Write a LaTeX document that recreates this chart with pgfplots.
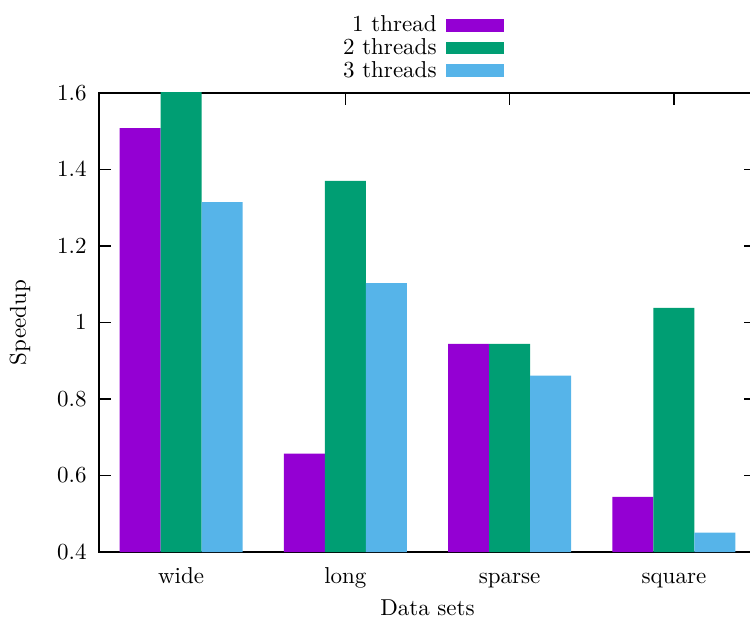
\documentclass[border=0pt]{standalone}
\usepackage{pgfplots}
\pgfplotsset{compat=1.18}
\definecolor{c1}{HTML}{9400D3}
\definecolor{c2}{HTML}{009E73}
\definecolor{c3}{HTML}{56B4E9}
\begin{document}
\begin{tikzpicture}
\begin{axis}[
  at={(0pt,0pt)}, anchor=south west,
  scale only axis, width=285.65pt, height=199.57pt,
  xmin=-0.5, xmax=3.5, ymin=0.4, ymax=1.6,
  ybar, bar width=0.25,
  xtick={0,1,2,3}, xticklabels={wide,long,sparse,square},
  ytick={0.4,0.6,0.8,1,1.2,1.4,1.6},
  xtick align=inside, ytick align=inside, major tick length=5.2pt,
  axis line style={line width=0.8pt},
  tick style={line width=0.6pt, black},
  xticklabel style={anchor=base, yshift=-13.6pt},
  yticklabel style={anchor=east, inner sep=0pt, xshift=-5.2pt},
  every axis y label/.style={at={(rel axis cs:0,0.5)}, xshift=-34.3pt, rotate=90, anchor=center},
  every axis x label/.style={at={(rel axis cs:0.5,0)}, yshift=-24.3pt, anchor=center},
  ylabel={Speedup}, xlabel={Data sets},
  legend plot pos=right,
  legend cell align=right,
  legend style={at={(axis description cs:0.6164,1.17)}, anchor=north east,
    draw=none, fill=none, inner sep=0pt, row sep=1.5pt, column sep=4.3pt,
    nodes={inner sep=0pt}},
  legend image code/.code={\fill[#1] (0pt,-2.8pt) rectangle (24.8pt,2.8pt);},
]
\addplot[fill=c1, draw=none, bar shift=-0.25] coordinates {(0,1.508) (1,0.657) (2,0.944) (3,0.544)};
\addplot[fill=c2, draw=none, bar shift=0] coordinates {(0,1.62) (1,1.37) (2,0.944) (3,1.038)};
\addplot[fill=c3, draw=none, bar shift=0.25] coordinates {(0,1.315) (1,1.103) (2,0.861) (3,0.451)};
\legend{1 thread, 2 threads, 3 threads}
\end{axis}
\pgfresetboundingbox
\path (-43.04pt,-30pt) rectangle (283.04pt,240pt);
\end{tikzpicture}
\end{document}
